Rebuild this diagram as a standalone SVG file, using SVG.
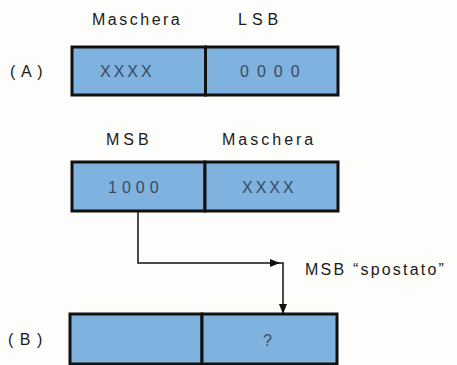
<svg xmlns="http://www.w3.org/2000/svg" width="457" height="365" viewBox="0 0 457 365">
<style>
.bg{fill:#fdfdfb}
.cell{fill:#7fb2de;stroke:#111;stroke-width:3}
.lbl{font-family:"Liberation Sans",Arial,sans-serif;font-size:16px;fill:#1a1a1a;letter-spacing:2.5px}
.val{font-family:"Liberation Sans",Arial,sans-serif;font-size:16px;fill:#3a4a60;letter-spacing:3px}
.conn{fill:none;stroke:#111;stroke-width:1.5}
</style>
<defs>
<marker id="ah" markerWidth="10" markerHeight="8" refX="9" refY="4" orient="auto" markerUnits="userSpaceOnUse">
<path d="M0,0 L10,4 L0,8 Z" fill="#111"/>
</marker>
</defs>
<rect class="bg" x="0" y="0" width="457" height="365"/>
<g id="regA">
<text class="lbl" x="10" y="77" style="letter-spacing:1px">( A )</text>
<text class="lbl" x="92" y="25">Maschera</text>
<text class="lbl" x="238" y="25" style="letter-spacing:5px">LSB</text>
<rect class="cell" x="72" y="47" width="133.5" height="48"/>
<rect class="cell" x="205.5" y="47" width="132.5" height="48"/>
<text class="val" x="100" y="77">XXXX</text>
<text class="val" x="240" y="77" style="letter-spacing:8px">0000</text>
</g>
<g id="regMid">
<text class="lbl" x="106" y="145" style="letter-spacing:4px">MSB</text>
<text class="lbl" x="222" y="145" style="letter-spacing:3px">Maschera</text>
<rect class="cell" x="72" y="162" width="133" height="49"/>
<rect class="cell" x="205" y="162" width="133" height="49"/>
<text class="val" x="108" y="193" style="letter-spacing:5px">1000</text>
<text class="val" x="242" y="193">XXXX</text>
</g>
<g id="regB">
<text class="lbl" x="8" y="345" style="letter-spacing:1px">( B )</text>
<rect class="cell" x="70" y="314" width="132" height="50"/>
<rect class="cell" x="202" y="314" width="135" height="50"/>
<text class="val" x="263" y="346" style="letter-spacing:0">?</text>
</g>
<g id="connectors">
<path class="conn" d="M138,212 V263 H279" marker-end="url(#ah)"/>
<path class="conn" d="M276,263 H283 V313" marker-end="url(#ah)"/>
<text class="lbl" x="305" y="275" style="letter-spacing:2.2px">MSB “spostato”</text>
</g>
</svg>
